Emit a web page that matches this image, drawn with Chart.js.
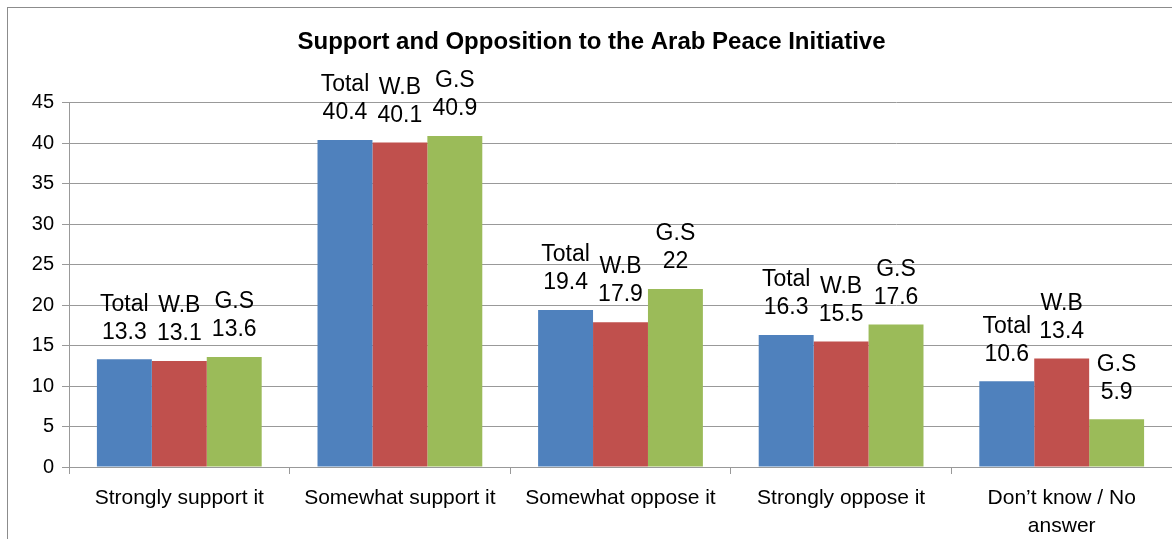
<!DOCTYPE html>
<html lang="en">
<head>
  <meta charset="UTF-8">
  <title>Support and Opposition to the Arab Peace Initiative</title>
  <script src="https://cdn.jsdelivr.net/npm/chart.js"></script>
  <style>
    html, body {
      margin: 0;
      padding: 0;
      background: #fff;
      overflow: hidden;
    }

    .wrap {
      width: 1172px;
      height: 539px;
    }
  </style>
</head>
<body>

<div class="wrap">
  <canvas id="apiChart" width="1172" height="539"></canvas>
</div>

<script>
  // data
  const categories = [
    'Strongly support it',
    'Somewhat support it',
    'Somewhat oppose it',
    'Strongly oppose it',
    ['Don’t know / No', 'answer']
  ];
  const seriesNames = ['Total', 'W.B', 'G.S'];
  const totalValues = [13.3, 40.4, 19.4, 16.3, 10.6];
  const wbValues = [13.1, 40.1, 17.9, 15.5, 13.4];
  const gsValues = [13.6, 40.9, 22, 17.6, 5.9];
  const yTicks = [0, 5, 10, 15, 20, 25, 30, 35, 40, 45];

  const FONT = "'Liberation Sans', Arial, sans-serif";
  const NARROW = "'Liberation Sans Narrow', 'Arial Narrow', 'Liberation Sans', sans-serif";
  const gridColor = '#999999';

  // outer frame of the chart (cropped on the right and bottom)
  const framePlugin = {
    id: 'frame',
    beforeDraw(chart) {
      const c = chart.ctx;
      c.save();
      c.strokeStyle = '#8c8c8c';
      c.lineWidth = 1;
      c.strokeRect(7.5, 7.5, 1300, 700);
      c.restore();
    }
  };

  // "Total / 13.3" labels above each bar
  const barLabels = {
    id: 'barLabels',
    afterDatasetsDraw(chart) {
      const c = chart.ctx;
      c.save();
      c.font = '23px ' + NARROW;
      c.fillStyle = '#000';
      c.textAlign = 'center';
      c.textBaseline = 'middle';
      chart.data.datasets.forEach((ds, i) => {
        chart.getDatasetMeta(i).data.forEach((bar, j) => {
          c.fillText(ds.label, bar.x, bar.y - 55);
          c.fillText(String(ds.data[j]), bar.x, bar.y - 27);
        });
      });
      c.restore();
    }
  };

  new Chart(document.getElementById('apiChart'), {
    type: 'bar',
    data: {
      labels: categories,
      datasets: [
        { label: seriesNames[0], data: totalValues, backgroundColor: '#4f81bd' },
        { label: seriesNames[1], data: wbValues, backgroundColor: '#c0504d' },
        { label: seriesNames[2], data: gsValues, backgroundColor: '#9bbb59' }
      ]
    },
    options: {
      responsive: false,
      animation: false,
      events: [],
      layout: {
        padding: { top: 28, left: 11, right: 0, bottom: 0 }
      },
      datasets: {
        bar: {
          barPercentage: 1,
          categoryPercentage: 0.747,
          borderWidth: 0
        }
      },
      plugins: {
        legend: { display: false },
        tooltip: { enabled: false },
        title: {
          display: true,
          text: 'Support and Opposition to the Arab Peace Initiative',
          color: '#000',
          font: { family: FONT, size: 24, weight: 'bold', lineHeight: 1.2 },
          padding: { top: 0, bottom: 46 }
        }
      },
      scales: {
        x: {
          offset: true,
          grid: {
            display: true,
            drawOnChartArea: false,
            offset: true,
            color: gridColor,
            tickLength: 7
          },
          border: { color: gridColor, width: 1 },
          ticks: {
            color: '#000',
            font: { family: FONT, size: 21, lineHeight: 1.3 },
            padding: 11,
            maxRotation: 0,
            autoSkip: false
          },
          afterFit(s) { s.height = 72; }
        },
        y: {
          min: 0,
          max: 45,
          afterBuildTicks(s) { s.ticks = yTicks.map(v => ({ value: v })); },
          grid: {
            color: gridColor,
            tickLength: 7
          },
          border: { color: gridColor, width: 1 },
          ticks: {
            color: '#000',
            font: { family: FONT, size: 20 },
            padding: 8
          },
          afterFit(s) { s.width = 58; }
        }
      }
    },
    plugins: [framePlugin, barLabels]
  });
</script>

</body>
</html>
